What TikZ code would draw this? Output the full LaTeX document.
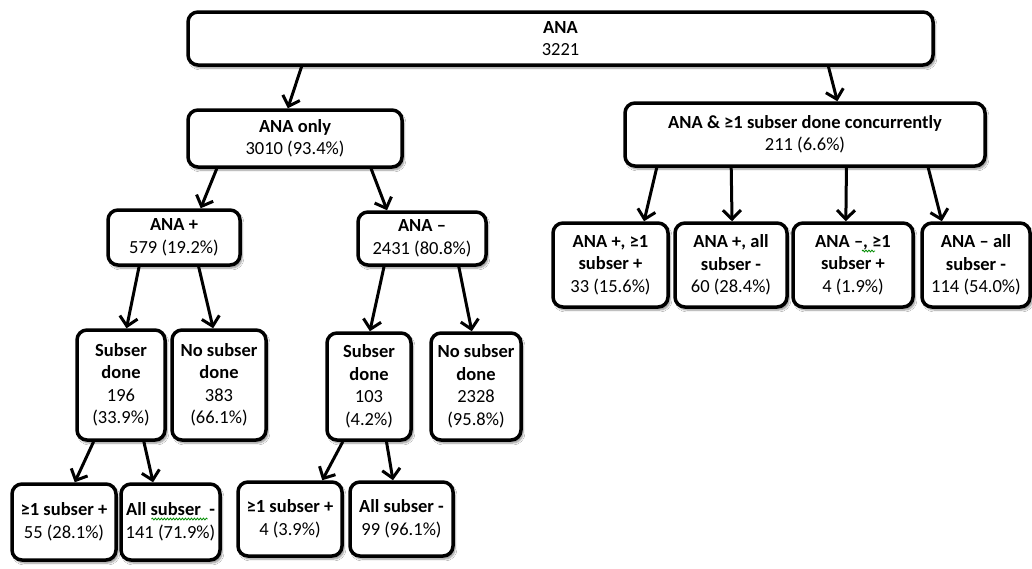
\documentclass[tikz,border=0pt]{standalone}
\usepackage{fontspec}
\setmainfont{Carlito}
\usetikzlibrary{arrows.meta,shadows.blur,calc,decorations.pathmorphing}
\newcommand\conn[4]{\draw[arr] ($(#1.south west)!#2!(#1.south east)$) -- ($(#3.north west)!#4!(#3.north east)$);}
\begin{document}
\begin{tikzpicture}[x=1pt,y=-1pt,
  box/.style={draw=black, line width=3.5pt, rounded corners=10pt, fill=white,
    align=center, inner sep=0pt, font=\fontsize{18.5}{22.5}\selectfont,
    blur shadow={shadow xshift=2pt, shadow yshift=-3pt, shadow opacity=45, shadow blur steps=6}},
  arr/.style={line width=3pt, -{Straight Barb[length=9pt,width=18pt]}},
  squiggle/.style={draw=green!55!black, line width=0.8pt, decorate,
    decoration={snake, amplitude=0.9pt, segment length=3pt}}]
\useasboundingbox (0,0) rectangle (1032,568);
\fill[white] (0,0) rectangle (1032,568);

\node[box, minimum width=745pt, minimum height=53pt] (top) at (560.5,38.5) {\textbf{ANA}\\3221};
\node[box, minimum width=214pt, minimum height=57pt] (only) at (295,138.5) {\textbf{ANA only}\\3010 (93.4\%)};
\node[box, minimum width=360pt, minimum height=63pt] (conc) at (805,134.5) {\textbf{ANA \& ≥1 subser done concurrently}\\211 (6.6\%)};
\node[box, minimum width=132pt, minimum height=55pt] (plus) at (174,237.5) {\textbf{ANA +}\\579 (19.2\%)};
\node[box, minimum width=128pt, minimum height=53pt] (minus) at (422,238.5) {\textbf{ANA –}\\2431 (80.8\%)};

\node[box, minimum width=115pt, minimum height=84pt] (c1) at (610.5,265) {\textbf{ANA +, ≥1}\\\textbf{subser +}\\33 (15.6\%)};
\node[box, minimum width=112pt, minimum height=84pt] (c2) at (731,265) {\textbf{ANA +, all}\\\textbf{subser -}\\60 (28.4\%)};
\node[box, minimum width=120pt, minimum height=84pt] (c3) at (853,265) {\textbf{ANA –, ≥1}\\\textbf{subser +}\\4 (1.9\%)};
\node[box, minimum width=108pt, minimum height=84pt] (c4) at (976,265) {\textbf{ANA – all}\\\textbf{subser -}\\114 (54.0\%)};

\node[box, minimum width=88pt, minimum height=110pt] (subL) at (121,385) {\textbf{Subser}\\\textbf{done}\\196\\(33.9\%)};
\node[box, minimum width=94pt, minimum height=110pt] (noL) at (219,385) {\textbf{No subser}\\\textbf{done}\\383\\(66.1\%)};
\node[box, minimum width=84pt, minimum height=107pt] (subR) at (369,386.5) {\textbf{Subser}\\\textbf{done}\\103\\(4.2\%)};
\node[box, minimum width=90pt, minimum height=107pt] (noR) at (476,386.5) {\textbf{No subser}\\\textbf{done}\\2328\\(95.8\%)};

\node[box, minimum width=104pt, minimum height=76pt] (b1) at (64,522) {\textbf{≥1 subser +}\\55 (28.1\%)};
\node[box, minimum width=99pt, minimum height=76pt] (b2) at (170.5,522) {\textbf{All subser\ \ -}\\141 (71.9\%)};
\node[box, minimum width=104pt, minimum height=74pt] (b3) at (290,519) {\textbf{≥1 subser +}\\4 (3.9\%)};
\node[box, minimum width=103pt, minimum height=74pt] (b4) at (401.5,519) {\textbf{All subser -}\\99 (96.1\%)};

% spell-check squiggles
\path[squiggle] ($(c3.center)+(9,-14)$) -- ($(c3.center)+(22,-14)$);
\path[squiggle] ($(b2.center)+(-19,-3)$) -- ($(b2.center)+(37,-3)$);

\conn{top}{0.154}{only}{0.467}
\conn{top}{0.858}{conc}{0.589}
\conn{only}{0.14}{plus}{0.697}
\conn{only}{0.85}{minus}{0.234}
\conn{conc}{0.092}{c1}{0.783}
\conn{conc}{0.297}{c2}{0.509}
\conn{conc}{0.614}{c3}{0.442}
\conn{conc}{0.839}{c4}{0.194}
\conn{plus}{0.242}{subL}{0.56}
\conn{plus}{0.682}{noL}{0.44}
\conn{minus}{0.211}{subR}{0.51}
\conn{minus}{0.78}{noR}{0.455}
\conn{subL}{0.2}{b1}{0.6}
\conn{subL}{0.75}{b2}{0.33}
\conn{subR}{0.2}{b3}{0.8}
\conn{subR}{0.7}{b4}{0.42}
\end{tikzpicture}
\end{document}
